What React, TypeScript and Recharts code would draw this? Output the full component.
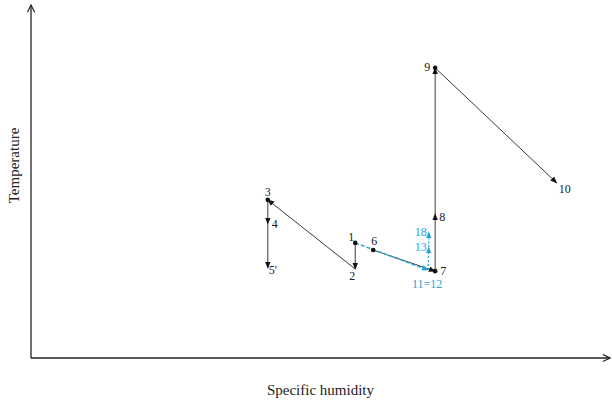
import React from 'react';
import { ComposedChart, XAxis, YAxis, Scatter, ReferenceLine, LabelList } from 'recharts';

// state points of the process (specific humidity, temperature), arbitrary units 0-100
const pointNames = ['1', '2', '3', '4', "5'", '6', '7', '8', '9', '10', '11=12', '13', '18'];
const humidity = [56.0, 56.0, 40.9, 40.9, 40.9, 59.1, 69.8, 69.8, 69.8, 90.8, 68.6, 68.7, 68.7];
const temperature = [32.6, 25.2, 44.8, 38.0, 25.5, 30.6, 24.6, 40.8, 82.2, 49.6, 24.9, 31.4, 35.7];

const dotted = ['1', '3', '6', '7', '9'];
const cyanPoints = ['11=12', '13', '18'];

const blackArrows = [['1', '2'], ['2', '3'], ['3', '4'], ['4', "5'"], ['6', '7'], ['7', '8'], ['8', '9'], ['9', '10']];
const cyanDashed = [['1', '11=12']];
const cyanDotted = [['11=12', '13'], ['13', '18']];

const points = pointNames.map((name, i) => ({ name, x: humidity[i], y: temperature[i] }));
const at = (n) => points.find((p) => p.name === n);

const INK = '#3a3a3a';
const CYAN = '#2ba3d8';
const FONT = '"Liberation Serif", "Times New Roman", serif';

const labelPos = {
    '1': [-4, -6], '2': [-3, 7], '3': [0, -8], '4': [7, 0], "5'": [5, 2], '6': [1, -9],
    '7': [8, 0], '8': [7, 3], '9': [-8, -1], '10': [8, 6], '11=12': [-1, 14], '13': [-8, 0], '18': [-8, 0],
};

const PointLabel = (props) => {
    const { viewBox, value } = props;
    const cx = viewBox.x + (viewBox.width || 0) / 2;
    const cy = viewBox.y + (viewBox.height || 0) / 2;
    const [dx, dy] = labelPos[value] || [0, 0];
    return (
        <text x={cx + dx} y={cy + dy} textAnchor="middle" dominantBaseline="central"
            fontFamily={FONT} fontSize={12} fill={cyanPoints.includes(value) ? CYAN : '#222'}>
            {value}
        </text>
    );
};

const PointDot = (props) => {
    const { cx, cy, payload } = props;
    if (!dotted.includes(payload.name)) return <g />;
    return <circle cx={cx} cy={cy} r={2.3} fill="#111" />;
};

const YTitle = (props) => {
    const { viewBox } = props;
    const cx = viewBox.x + 14;
    const cy = viewBox.y + viewBox.height / 2 - 16;
    return (
        <text x={cx} y={cy} transform={`rotate(-90 ${cx} ${cy})`} textAnchor="middle" dominantBaseline="central"
            fontFamily={FONT} fontSize={15} fill="#222">
            Temperature
        </text>
    );
};

const App = () => {
    return (
        <div style={{ position: 'absolute', left: 0, top: 0 }}>
            <ComposedChart width={612} height={404} margin={{ top: 5, right: 2, left: 0, bottom: 0 }}>
                <defs>
                    <marker id="axArrow" viewBox="0 0 10 10" refX="9" refY="5" markerWidth="9" markerHeight="9"
                        markerUnits="userSpaceOnUse" orient="auto-start-reverse">
                        <path d="M1,1 L9,5 L1,9" fill="none" stroke="#222" strokeWidth="1.3" />
                    </marker>
                    <marker id="blkArrow" viewBox="0 0 10 10" refX="9" refY="5" markerWidth="7" markerHeight="7"
                        markerUnits="userSpaceOnUse" orient="auto">
                        <path d="M0,1 L10,5 L0,9 Z" fill="#111" />
                    </marker>
                    <marker id="cyArrow" viewBox="0 0 10 10" refX="9" refY="5" markerWidth="7" markerHeight="7"
                        markerUnits="userSpaceOnUse" orient="auto">
                        <path d="M0,1 L10,5 L0,9 Z" fill={CYAN} />
                    </marker>
                </defs>
                <XAxis type="number" dataKey="x" domain={[0, 100]} tick={false} tickLine={false} height={46}
                    axisLine={{ stroke: '#222', strokeWidth: 1.3, markerEnd: 'url(#axArrow)' }}
                    label={{ value: 'Specific humidity', position: 'insideBottom', offset: 9, fontFamily: FONT, fontSize: 15, fill: '#222' }} />
                <YAxis type="number" dataKey="y" domain={[0, 100]} tick={false} tickLine={false} width={31}
                    axisLine={{ stroke: '#222', strokeWidth: 1.3, markerStart: 'url(#axArrow)' }}
                    label={<YTitle />} />
                {blackArrows.map(([a, b]) => (
                    <ReferenceLine key={`k${a}-${b}`} segment={[at(a), at(b)]} stroke={INK} strokeWidth={1}
                        markerEnd="url(#blkArrow)" ifOverflow="visible" />
                ))}
                {cyanDashed.map(([a, b]) => (
                    <ReferenceLine key={`c${a}-${b}`} segment={[at(a), at(b)]} stroke={CYAN} strokeWidth={1.4}
                        strokeDasharray="4 2" markerEnd="url(#cyArrow)" ifOverflow="visible" />
                ))}
                {cyanDotted.map(([a, b]) => (
                    <ReferenceLine key={`d${a}-${b}`} segment={[at(a), at(b)]} stroke={CYAN} strokeWidth={1.3}
                        strokeDasharray="2 2" markerEnd="url(#cyArrow)" ifOverflow="visible" />
                ))}
                <Scatter data={points} shape={<PointDot />} isAnimationActive={false}>
                    <LabelList dataKey="name" content={<PointLabel />} />
                </Scatter>
            </ComposedChart>
        </div>
    );
};

export default App;
